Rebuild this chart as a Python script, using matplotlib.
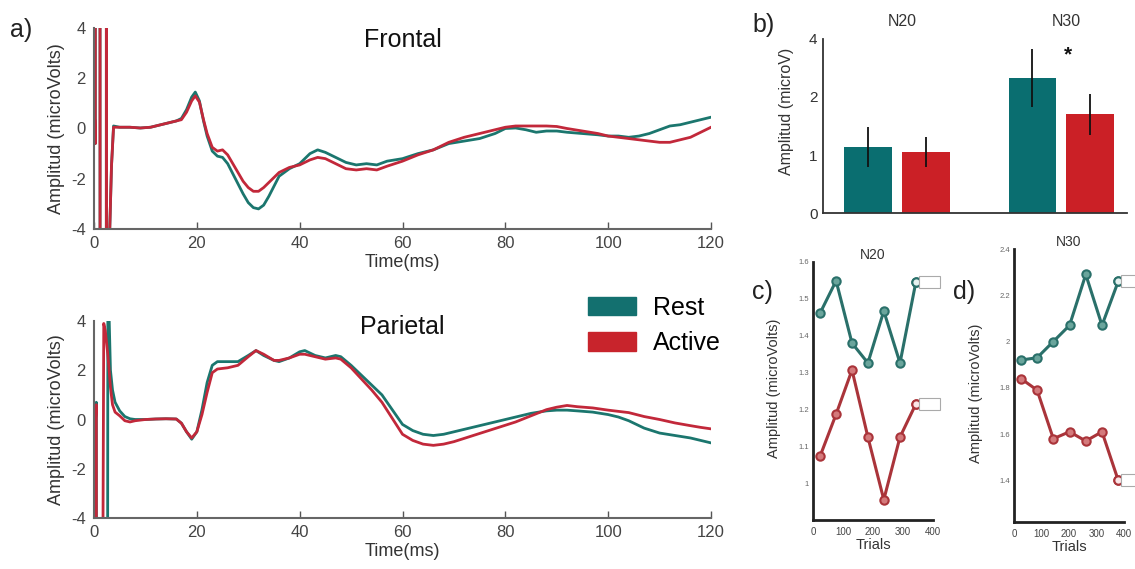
import matplotlib
matplotlib.use("Agg")
import matplotlib.pyplot as plt
from matplotlib.patches import Patch

plt.rcParams['font.family'] = ['Liberation Sans', 'DejaVu Sans']
plt.rcParams['axes.unicode_minus'] = False

# ---- colores ----
teal = '#1b766e'
red = '#c2283a'
bar_teal = '#0a6e70'
bar_red = '#cb2026'

# ---- a) ERP frontal ----
t_front = [0.15, 0.25, 0.3, 1.15, 1.2, 2.38, 2.42, 2.46, 3.0, 3.4, 3.8,
           5, 7, 9, 11, 13, 15, 16, 17, 18, 19, 19.7, 20.5, 21.3, 22, 23, 24,
           25, 26, 27, 28, 29, 30, 31, 32, 33, 34, 35, 36, 38, 40, 42, 43.5,
           45, 47, 49, 51, 53, 55, 57, 60, 63, 66, 69, 72, 75, 78, 80, 82, 84,
           86, 88, 90, 92, 95, 98, 100, 102, 104, 106, 108, 110, 112, 114,
           116, 118, 120]
front_rest = [0.3, -0.6, 40, 40, -40, -40, 40, -40, -4.5, -1.5, 0.1,
              0.05, 0.05, 0.02, 0.05, 0.15, 0.25, 0.3, 0.4, 0.75, 1.25, 1.45,
              1.1, 0.3, -0.3, -0.9, -1.1, -1.15, -1.4, -1.8, -2.2, -2.6, -2.95,
              -3.15, -3.2, -3.05, -2.7, -2.3, -1.9, -1.6, -1.4, -1.0, -0.85,
              -0.95, -1.15, -1.35, -1.45, -1.4, -1.45, -1.3, -1.2, -1.0, -0.85,
              -0.6, -0.5, -0.4, -0.2, 0.0, 0.02, -0.05, -0.15, -0.1, -0.1,
              -0.15, -0.2, -0.25, -0.3, -0.3, -0.35, -0.3, -0.2, -0.05, 0.1,
              0.15, 0.25, 0.35, 0.45]
front_active = [0.3, -0.6, 40, 40, -40, -40, 40, -40, -4.5, -1.5, 0.05,
                0.05, 0.05, 0.02, 0.05, 0.15, 0.25, 0.3, 0.35, 0.65, 1.1, 1.3,
                1.05, 0.35, -0.2, -0.75, -0.9, -0.85, -1.05, -1.4, -1.75, -2.1,
                -2.35, -2.5, -2.5, -2.35, -2.15, -1.95, -1.75, -1.55, -1.45,
                -1.25, -1.15, -1.2, -1.4, -1.6, -1.65, -1.6, -1.65, -1.5, -1.3,
                -1.05, -0.85, -0.55, -0.35, -0.2, -0.05, 0.05, 0.1, 0.1, 0.1,
                0.1, 0.08, 0.0, -0.1, -0.2, -0.3, -0.35, -0.4, -0.45, -0.5,
                -0.55, -0.55, -0.45, -0.35, -0.15, 0.05]

# ---- a) ERP parietal ----
t_par = [0.3, 0.45, 0.55, 1.1, 1.9, 2.2, 2.5, 2.7, 2.9, 3.2, 3.6, 4.1,
         5, 6, 7, 8, 10, 12, 14, 16, 17, 18, 19, 20, 21, 22, 23, 24, 26, 28,
         30, 31.5, 33, 35, 36, 38, 40, 41, 43, 45, 47, 48, 50, 52, 54, 56, 58,
         60, 62, 64, 66, 68, 70, 73, 76, 79, 82, 85, 88, 90, 92, 94, 97, 100,
         102, 104, 107, 110, 113, 116, 118, 120]
par_rest = [0.0, 0.7, -40, -40, -40, -40, -40, 6, 4.5, 2.0, 1.2, 0.7,
            0.35, 0.12, 0.03, 0.0, 0.0, 0.02, 0.03, 0.02, -0.15, -0.5, -0.8,
            -0.5, 0.4, 1.5, 2.2, 2.35, 2.35, 2.35, 2.6, 2.8, 2.6, 2.4, 2.35,
            2.5, 2.75, 2.8, 2.6, 2.5, 2.6, 2.55, 2.2, 1.8, 1.4, 1.0, 0.4, -0.2,
            -0.45, -0.6, -0.65, -0.6, -0.5, -0.35, -0.2, -0.05, 0.1, 0.25,
            0.35, 0.38, 0.38, 0.35, 0.3, 0.2, 0.1, -0.05, -0.35, -0.55, -0.65,
            -0.75, -0.85, -0.95]
par_active = [0.0, 0.6, -40, -40, 3.9, 3.6, 3.0, 2.6, 2.1, 1.3, 0.6, 0.3,
              0.15, -0.05, -0.1, -0.05, 0.0, 0.02, 0.03, 0.02, -0.15, -0.5,
              -0.75, -0.5, 0.2, 1.1, 1.9, 2.05, 2.1, 2.2, 2.55, 2.8, 2.65, 2.4,
              2.4, 2.5, 2.65, 2.65, 2.55, 2.45, 2.5, 2.45, 2.1, 1.65, 1.2, 0.7,
              0.05, -0.6, -0.85, -1.0, -1.05, -1.0, -0.9, -0.7, -0.5, -0.3,
              -0.1, 0.15, 0.4, 0.5, 0.57, 0.52, 0.47, 0.38, 0.33, 0.28, 0.12,
              0.0, -0.14, -0.25, -0.32, -0.38]

# ---- b) barras ----
components = ['N20', 'N30']
bar_rest = [1.14, 2.33]
bar_active = [1.05, 1.70]
err_rest = [0.34, 0.50]
err_active = [0.26, 0.35]

# ---- c), d) por ensayos ----
trials_c = [24, 77, 130, 183, 236, 290, 343]
n20_rest = [1.462, 1.549, 1.38, 1.326, 1.467, 1.326, 1.546]
n20_active = [1.074, 1.187, 1.307, 1.125, 0.955, 1.125, 1.215]
trials_d = [25, 84, 143, 202, 261, 320, 379]
n30_rest = [1.92, 1.93, 2.0, 2.07, 2.29, 2.07, 2.26]
n30_active = [1.84, 1.79, 1.58, 1.61, 1.57, 1.61, 1.40]

W, H = 1135, 569
fig = plt.figure(figsize=(W / 100, H / 100), dpi=100)


def px_axes(l, t, r, b):
    return fig.add_axes([l / W, 1 - b / H, (r - l) / W, (b - t) / H])


def erp_axes(ax, t, rest, active, title):
    ax.plot(t, rest, color=teal, lw=2.0, solid_joinstyle='round')
    ax.plot(t, active, color=red, lw=2.0, solid_joinstyle='round')
    ax.set_xlim(0, 120)
    ax.set_ylim(-4, 4)
    ax.set_xticks([0, 20, 40, 60, 80, 100, 120])
    ax.set_yticks([-4, -2, 0, 2, 4])
    ax.tick_params(axis='x', direction='in', length=5, width=1, colors='#555',
                   labelcolor='#444', labelsize=12, pad=5)
    ax.tick_params(axis='y', length=0, labelcolor='#444', labelsize=12, pad=6)
    for s in ['top', 'right']:
        ax.spines[s].set_visible(False)
    for s in ['left', 'bottom']:
        ax.spines[s].set_color('#666')
        ax.spines[s].set_linewidth(1.5)
    ax.set_xlabel('Time(ms)', fontsize=13, color='#333', labelpad=2)
    ax.set_ylabel('Amplitud (microVolts)', fontsize=13, color='#333')
    ax.text(0.5, 1.0, title, transform=ax.transAxes, ha='center', va='top',
            fontsize=18, color='#111')


ax_f = px_axes(94, 28, 711, 229)
erp_axes(ax_f, t_front, front_rest, front_active, 'Frontal')
ax_p = px_axes(94, 321, 711, 518)
erp_axes(ax_p, t_par, par_rest, par_active, 'Parietal')
ax_p.texts[0].set_y(1.03)

fig.legend(handles=[Patch(color='#13706f', label='Rest'),
                    Patch(color='#c8242c', label='Active')],
           loc='upper left', bbox_to_anchor=(588 / W, 1 - 296 / H),
           frameon=False, fontsize=18, handlelength=1.9, handleheight=0.75,
           handletextpad=0.7, labelspacing=0.45, borderpad=0,
           borderaxespad=0)

# ---- b) ----
ax_b = px_axes(823, 39, 1127, 213)
xc = [1, 2]
off = 0.176
ax_b.bar([x - off for x in xc], bar_rest, width=0.29, color=bar_teal)
ax_b.bar([x + off for x in xc], bar_active, width=0.29, color=bar_red)
ax_b.errorbar([x - off for x in xc], bar_rest, yerr=err_rest, fmt='none',
              ecolor='#111', elinewidth=1.3, capsize=0)
ax_b.errorbar([x + off for x in xc], bar_active, yerr=err_active, fmt='none',
              ecolor='#111', elinewidth=1.3, capsize=0)
ax_b.set_xlim(0.55, 2.4)
ax_b.set_ylim(0, 3)
ax_b.set_xticks([])
ax_b.set_yticks([0, 1, 2, 3])
ax_b.set_yticklabels(['0', '1', '2', '4'])
ax_b.tick_params(axis='y', length=0, labelsize=11, labelcolor='#333', pad=4)
for s in ['top', 'right']:
    ax_b.spines[s].set_visible(False)
for s in ['left', 'bottom']:
    ax_b.spines[s].set_color('#333')
    ax_b.spines[s].set_linewidth(1.3)
ax_b.set_ylabel('Amplitud (microV)', fontsize=11.5, color='#333')
ax_b.yaxis.set_label_coords(-0.095, 0.586)
for x, name in zip(xc, components):
    ax_b.text(x + 0.03, 1.06, name, transform=ax_b.get_xaxis_transform(),
              ha='center', va='bottom', fontsize=11.5, color='#333')
ax_b.text(2.04, 2.72, '*', ha='center', va='center', fontsize=15,
          fontweight='bold', color='#111')


def trial_axes(ax, x, rest, active, title, ylim, yticks, yticklabels):
    ax.plot(x, rest, color='#2a706a', lw=2.2, marker='o', ms=6,
            mfc='#6aa59c', mec='#2a706a', mew=1.5)
    ax.plot(x, active, color='#aa343a', lw=2.2, marker='o', ms=6,
            mfc='#d47a7c', mec='#aa343a', mew=1.5)
    ax.plot(x[-1:], rest[-1:], 'o', ms=6, mfc='#e6f2f0', mec='#2a706a', mew=1.5)
    ax.plot(x[-1:], active[-1:], 'o', ms=6, mfc='#fbe6e8', mec='#aa343a', mew=1.5)
    for v in (rest[-1], active[-1]):
        ax.annotate('        ', xy=(x[-1], v), xytext=(4, 0),
                    textcoords='offset points', ha='left', va='center',
                    fontsize=5, annotation_clip=False,
                    bbox=dict(boxstyle='square,pad=0.35', fc='white',
                              ec='#aaa', lw=0.8))
    ax.set_xlim(0, 400)
    ax.set_ylim(*ylim)
    ax.set_xticks([0, 100, 200, 300, 400])
    ax.set_yticks(yticks)
    ax.set_yticklabels(yticklabels)
    ax.tick_params(axis='x', length=0, labelsize=7, labelcolor='#444', pad=5)
    ax.tick_params(axis='y', length=0, labelsize=5.5, labelcolor='#666', pad=3)
    for s in ['top', 'right']:
        ax.spines[s].set_visible(False)
    for s in ['left', 'bottom']:
        ax.spines[s].set_color('#222')
        ax.spines[s].set_linewidth(2)
    ax.set_xlabel('Trials', fontsize=10.5, color='#333', labelpad=1)
    ax.set_ylabel('Amplitud (microVolts)', fontsize=10.5, color='#333')
    ax.set_title(title, fontsize=10, color='#333', pad=2)


ax_c = px_axes(813, 262, 933, 520)
trial_axes(ax_c, trials_c, n20_rest, n20_active, 'N20', (0.9, 1.6),
           [1.0, 1.1, 1.2, 1.3, 1.4, 1.5, 1.6],
           ['1', '1.1', '1.2', '1.3', '1.4', '1.5', '1.6'])
ax_c.yaxis.set_label_coords(-0.27, 0.51)

ax_d = px_axes(1014, 249, 1124, 522)
trial_axes(ax_d, trials_d, n30_rest, n30_active, 'N30', (1.22, 2.4),
           [1.4, 1.6, 1.8, 2.0, 2.2, 2.4],
           ['1.4', '1.6', '1.8', '2', '2.2', '2.4'])
ax_d.yaxis.set_label_coords(-0.28, 0.47)

# ---- etiquetas de panel ----
fig.text(10 / W, 1 - 30 / H, 'a)', fontsize=18, va='center', color='#222')
fig.text(752 / W, 1 - 25 / H, 'b)', fontsize=18, va='center', color='#222')
fig.text(752 / W, 1 - 292 / H, 'c)', fontsize=18, va='center', color='#222')
fig.text(953 / W, 1 - 292 / H, 'd)', fontsize=18, va='center', color='#222')

fig.savefig('out.png', dpi=100)
